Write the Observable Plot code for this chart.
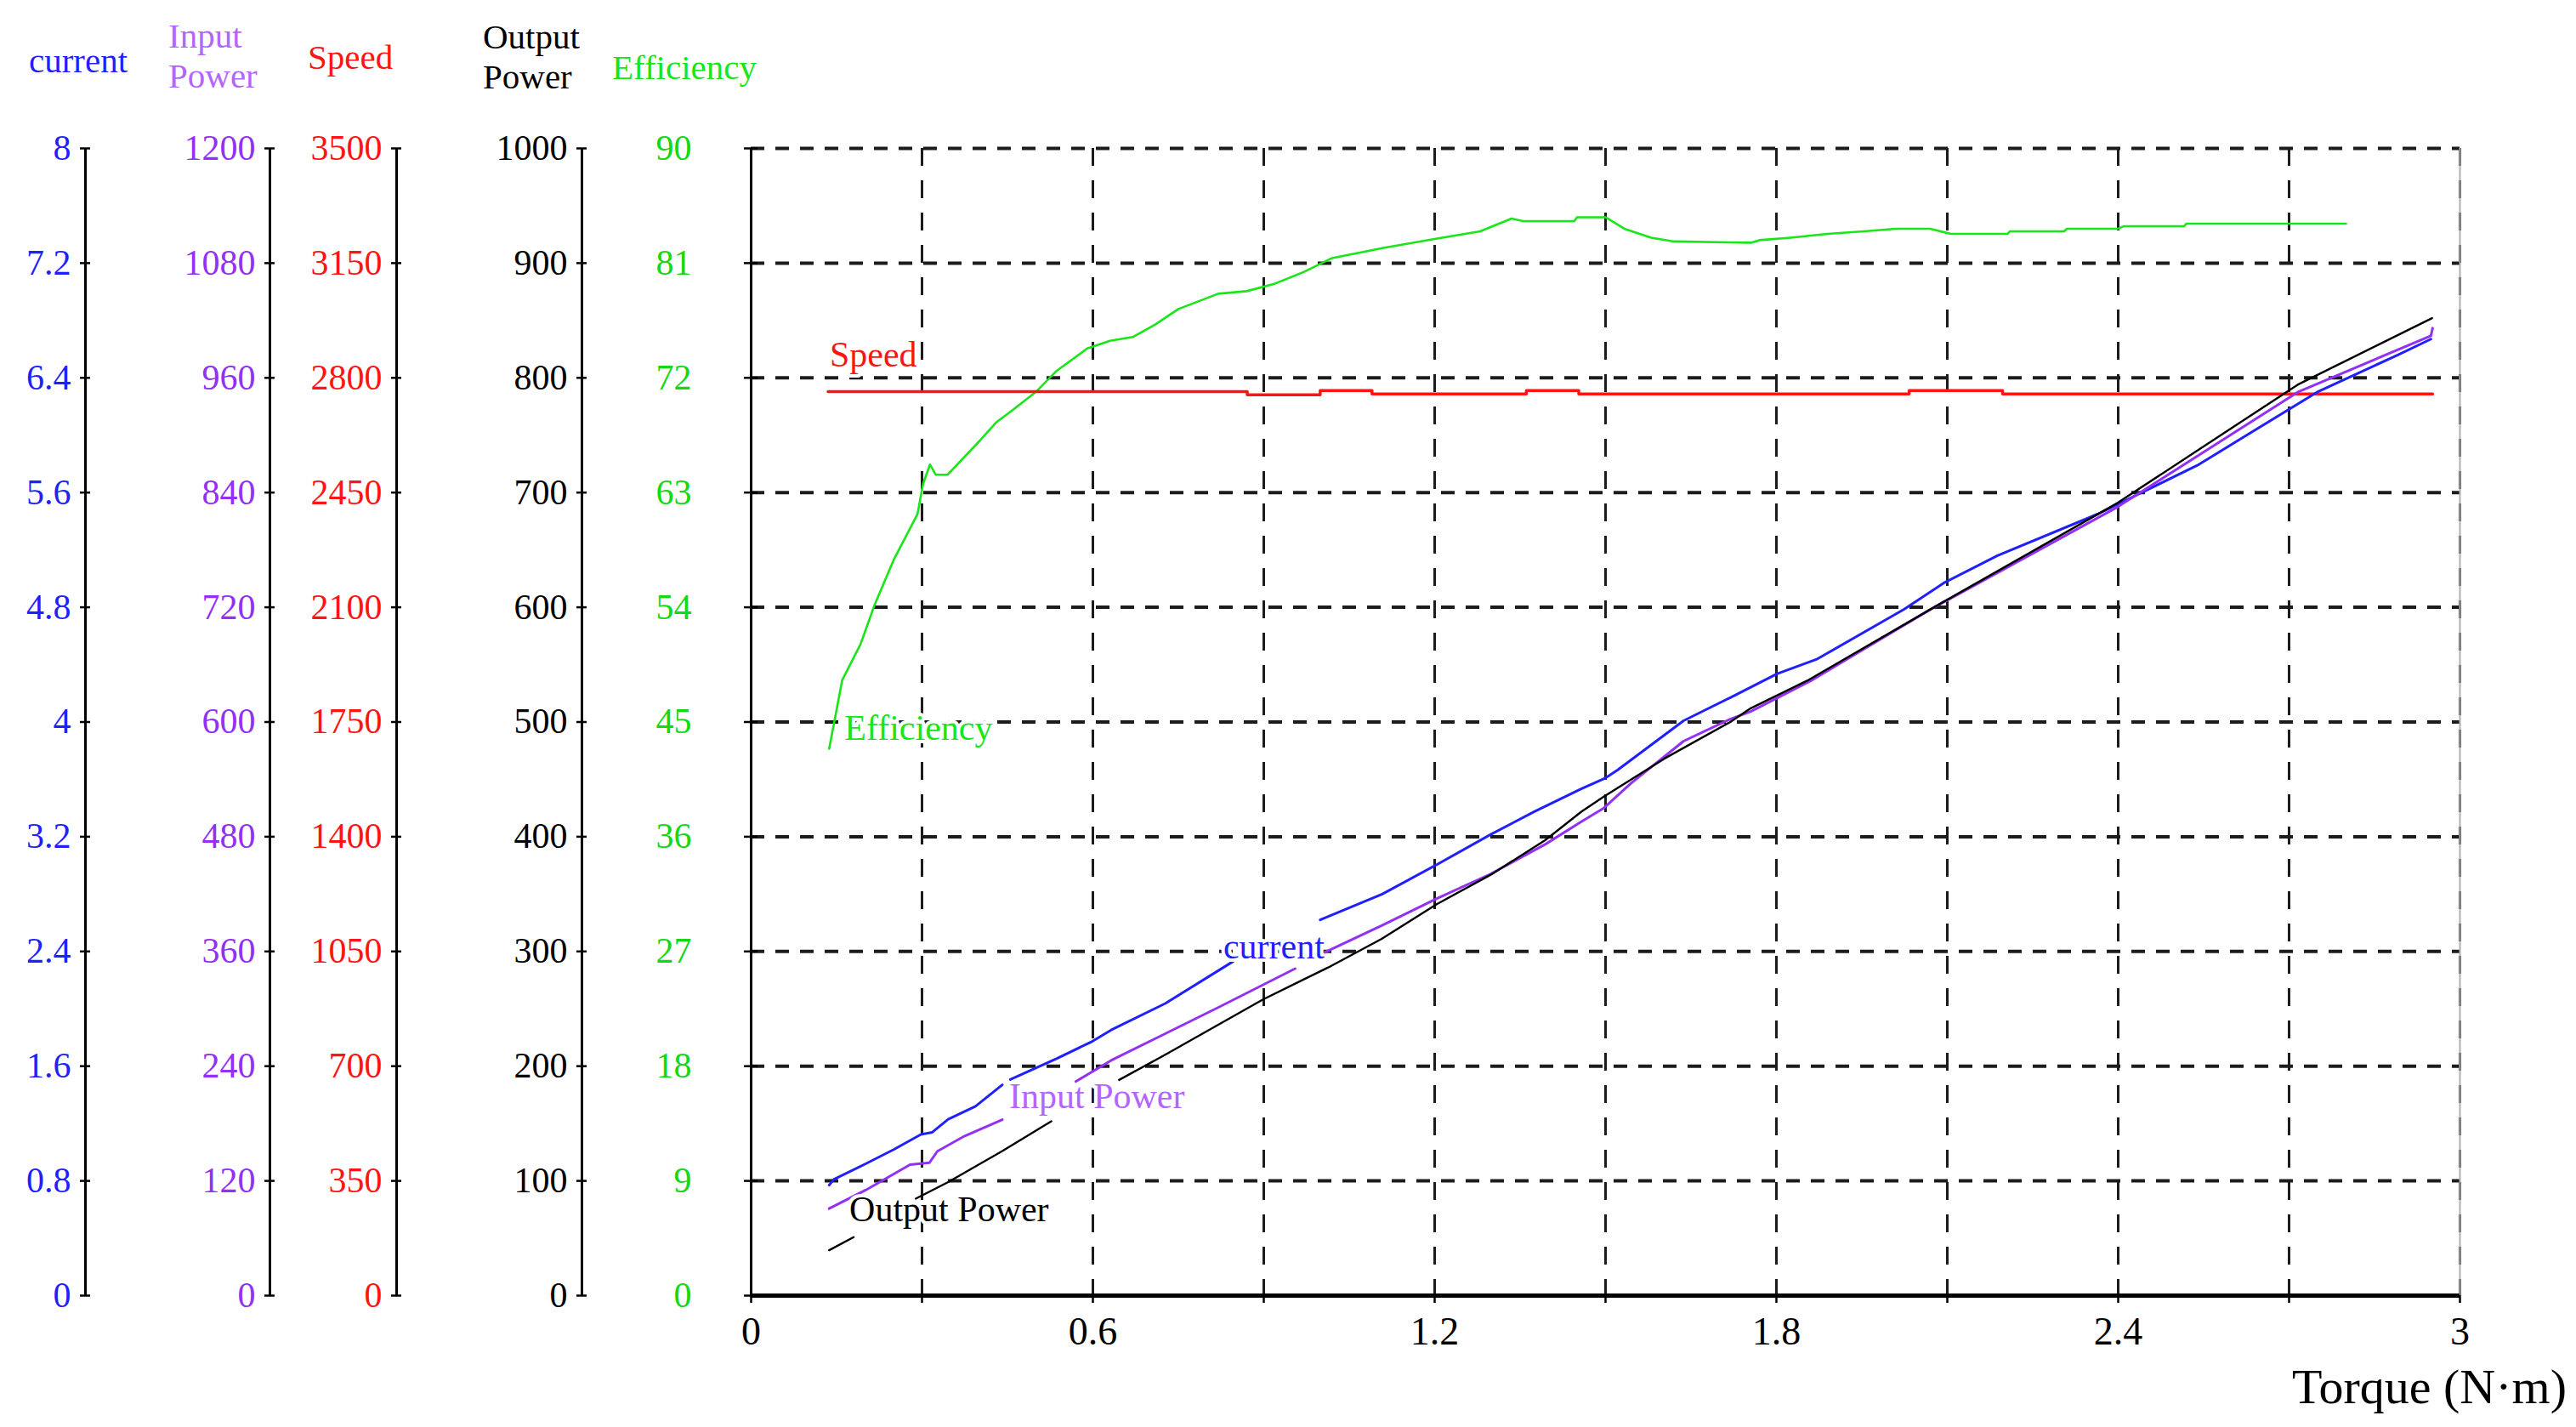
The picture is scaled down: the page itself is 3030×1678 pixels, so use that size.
<!DOCTYPE html>
<html>
<head>
<meta charset="utf-8">
<script src="https://cdn.jsdelivr.net/npm/d3@7"></script>
<script src="https://cdn.jsdelivr.net/npm/@observablehq/plot@0.6"></script>
<style>
  html, body { margin: 0; padding: 0; background: #ffffff; }
  #chart { position: relative; width: 3030px; height: 1678px; background: #ffffff;
           font-family: "Liberation Serif", "Times New Roman", serif; overflow: hidden; }
  #chart svg { position: absolute; left: 0; top: 0; }
  .hdr { position: absolute; font-size: 41px; line-height: 47px; white-space: nowrap; }
  #xlabel { position: absolute; right: 11px; top: 1598px; font-size: 58px; line-height: 66px; white-space: nowrap; color: #000; }
</style>
</head>
<body>
<div id="chart"></div>
<script>
// ---------- tick values ----------
const torqueTicks  = [0, 0.3, 0.6, 0.9, 1.2, 1.5, 1.8, 2.1, 2.4, 2.7, 3];
const torqueLabels = [0, 0.6, 1.2, 1.8, 2.4, 3];
const currentTicks = [0, 0.8, 1.6, 2.4, 3.2, 4, 4.8, 5.6, 6.4, 7.2, 8];
const inputTicks   = [0, 120, 240, 360, 480, 600, 720, 840, 960, 1080, 1200];
const speedTicks   = [0, 350, 700, 1050, 1400, 1750, 2100, 2450, 2800, 3150, 3500];
const outputTicks  = [0, 100, 200, 300, 400, 500, 600, 700, 800, 900, 1000];
const effTicks     = [0, 9, 18, 27, 36, 45, 54, 63, 72, 81, 90];

// ---------- series (torque N·m -> value); NaN = break in the trace ----------
const effTorque = [0.137, 0.16, 0.192, 0.216, 0.25, 0.292, 0.302, 0.314, 0.324, 0.345,
                   0.40, 0.43, 0.46, 0.50, 0.535, 0.59, 0.63, 0.67, 0.71, 0.75,
                   0.82, 0.87, 0.92, 0.97, 1.02, 1.11, 1.20, 1.28, 1.335, 1.355,
                   1.445, 1.45, 1.50, 1.533, 1.58, 1.62, 1.755, 1.77, 1.825, 1.89,
                   1.954, 2.01, 2.07, 2.106, 2.206, 2.21, 2.305, 2.31, 2.40, 2.41,
                   2.516, 2.52, 2.80];
const effValue  = [42.9, 48.3, 51.1, 54.1, 57.7, 61.3, 63.7, 65.2, 64.4, 64.4,
                   67.0, 68.5, 69.5, 70.9, 72.5, 74.3, 74.9, 75.2, 76.2, 77.4,
                   78.6, 78.8, 79.4, 80.3, 81.4, 82.2, 82.9, 83.5, 84.5, 84.3,
                   84.3, 84.6, 84.6, 83.7, 83.0, 82.7, 82.6, 82.8, 83.0, 83.3,
                   83.5, 83.7, 83.7, 83.3, 83.3, 83.5, 83.5, 83.7, 83.7, 83.9,
                   83.9, 84.1, 84.1];

const speedTorque = [0.135, 0.871, 0.999, 1.09, 1.361, 1.453, 2.033, 2.197, 2.952];
const speedValue  = [2758, 2748, 2761, 2751, 2761, 2751, 2761, 2751, 2751];

const currentTorque = [0.137, 0.145, 0.204, 0.251, 0.298, 0.318, 0.346, 0.394, 0.441, 0.448,
                       0.455, 0.537, 0.599, 0.632, 0.727, 0.846, 0.92, 0.999, 1.108, 1.203,
                       1.298, 1.375, 1.458, 1.5, 1.521, 1.579, 1.637, 1.719, 1.801, 1.872,
                       2.024, 2.094, 2.188, 2.364, 2.539, 2.749, 2.891, 2.949];
const currentValue  = [0.77, 0.81, 0.925, 1.02, 1.124, 1.139, 1.23, 1.32, 1.47, NaN,
                       1.507, 1.654, 1.773, 1.852, 2.037, 2.33, NaN, 2.62, 2.80, 3.004,
                       3.215, 3.375, 3.535, 3.61, 3.665, 3.837, 4.009, 4.17, 4.336, 4.44,
                       4.786, 4.97, 5.16, 5.45, 5.79, 6.30, 6.56, 6.67];

const inputTorque = [0.137, 0.203, 0.279, 0.313, 0.327, 0.375, 0.441, 0.50, 0.570, 0.632,
                     0.727, 0.822, 0.955, 0.98, 1.007, 1.107, 1.203, 1.298, 1.394, 1.458,
                     1.497, 1.545, 1.637, 1.719, 1.755, 1.86, 2.071, 2.399, 2.715, 2.949, 2.952];
const inputValue  = [91, 111, 137, 139, 151, 167, 184, NaN, 224, 246,
                     274, 302, 342, NaN, 359, 387, 415, 441, 472, 496,
                     510, 536, 580, 603, 611, 643, 718, 825, 945, 1004, 1012];

const outputTorque = [0.137, 0.18, 0.235, 0.289, 0.346, 0.441, 0.527, 0.59, 0.646, 0.727,
                      0.898, 1.013, 1.107, 1.203, 1.299, 1.394, 1.458, 1.497, 1.603, 1.719,
                      1.755, 1.854, 2.094, 2.399, 2.715, 2.951];
const outputValue  = [39.6, 51, NaN, 84.5, 99, 126, 152, NaN, 188, 210,
                      258, 286, 311, 341, 367, 397, 422, 435, 468, 500,
                      512, 536, 605, 691, 794, 852];

// ---------- colours ----------
const BLUE = "#1f1fff", PURPLE = "#9330f5", PURPLE_LIGHT = "#b366ff", RED = "#ff1414",
      GREEN = "#19e619", GREEN_TXT = "#14d814", BLACK = "#000000";

// ---------- layout ----------
const W = 3030, H = 1678, ML = 883, MR = 137, MT = 174, MB = 155;
const FONT = "Liberation Serif";

const zip = (ts, vs) => ts.map((t, i) => ({t, v: vs[i]}));
const fmt = d => String(d);

function layer(yMax, marks) {
  return Plot.plot({
    width: W, height: H,
    marginLeft: ML, marginRight: MR, marginTop: MT, marginBottom: MB,
    x: {domain: [0, 3], axis: null, label: null},
    y: {domain: [0, yMax], axis: null, label: null},
    style: {background: "transparent", overflow: "visible", fontFamily: FONT, fontSize: "42px", color: "black"},
    marks
  });
}

function sideAxis(ticks, offset, color) {
  return [
    Plot.ruleX([0], {dx: offset, stroke: BLACK, strokeWidth: 3}),
    Plot.axisY(ticks, {anchor: "left", dx: offset, tickSize: 6, tickPadding: 11,
      fill: color, stroke: BLACK, strokeWidth: 2.5, fontSize: 42, tickFormat: fmt, label: null}),
    Plot.axisY(ticks, {anchor: "left", dx: offset + 6, tickSize: 6, fill: "none",
      stroke: BLACK, strokeWidth: 2.5, label: null})
  ];
}

function label(pt, txt, color, opts) {
  return Plot.text([pt], {x: "t", y: "v", text: () => txt, fill: color,
    stroke: "white", strokeWidth: 8, fontSize: 42, fontFamily: FONT, ...opts});
}

const effData = zip(effTorque, effValue);
const speedData = zip(speedTorque, speedValue);
const currentData = zip(currentTorque, currentValue);
const inputData = zip(inputTorque, inputValue);
const outputData = zip(outputTorque, outputValue);

// main layer: grid, torque axis, efficiency axis + curve
const mainPlot = layer(90, [
  Plot.ruleY(effTicks.slice(1), {stroke: "#1c1c1c", strokeWidth: 4, strokeDasharray: "16,13"}),
  Plot.ruleX(torqueTicks.slice(1), {stroke: "#1c1c1c", strokeWidth: 3, strokeDasharray: "21,17"}),
  Plot.ruleX([3], {stroke: "#b0b0b0", strokeWidth: 2}),
  Plot.ruleY([0], {stroke: BLACK, strokeWidth: 5}),
  Plot.ruleX([0], {stroke: BLACK, strokeWidth: 3}),
  Plot.axisX(torqueTicks, {tickSize: 9, fill: "none", stroke: BLACK, strokeWidth: 2.5, label: null}),
  Plot.axisX(torqueLabels, {tickSize: 0, tickPadding: 25, fill: BLACK, fontSize: 46, tickFormat: fmt, label: null}),
  Plot.axisY(effTicks, {anchor: "left", tickSize: 8, tickPadding: 62, fill: GREEN_TXT, stroke: BLACK,
    strokeWidth: 2.5, fontSize: 42, tickFormat: fmt, label: null}),
  Plot.axisY(effTicks, {anchor: "left", dx: 8, tickSize: 8, fill: "none", stroke: BLACK, strokeWidth: 2.5, label: null}),
  Plot.line(effData, {x: "t", y: "v", stroke: GREEN, strokeWidth: 2.6, strokeLinejoin: "round"}),
  label(effData[0], "Efficiency", GREEN, {textAnchor: "start", dx: 18, dy: -24})
]);

const speedPlot = layer(3500, [
  ...sideAxis(speedTicks, 466 - ML, RED),
  Plot.line(speedData, {x: "t", y: "v", stroke: RED, strokeWidth: 3.5, curve: "step-after"}),
  label(speedData[0], "Speed", RED, {textAnchor: "start", dx: 2, dy: -43})
]);

const currentPlot = layer(8, [
  ...sideAxis(currentTicks, 100 - ML, BLUE),
  Plot.line(currentData, {x: "t", y: "v", stroke: BLUE, strokeWidth: 3, strokeLinejoin: "round"}),
  label(currentData[17], "current", BLUE, {textAnchor: "end", dx: 5, dy: 32})
]);

const inputPlot = layer(1200, [
  ...sideAxis(inputTicks, 317 - ML, PURPLE),
  Plot.line(inputData, {x: "t", y: "v", stroke: PURPLE, strokeWidth: 3, strokeLinejoin: "round"}),
  label(inputData[6], "Input Power", PURPLE_LIGHT, {textAnchor: "start", dx: 8, dy: -27})
]);

const outputPlot = layer(1000, [
  ...sideAxis(outputTicks, 684 - ML, BLACK),
  Plot.line(outputData, {x: "t", y: "v", stroke: BLACK, strokeWidth: 2.4, strokeLinejoin: "round"}),
  label(outputData[1], "Output Power", BLACK, {textAnchor: "start", dx: -5, dy: -32})
]);

const chart = document.getElementById("chart");
[mainPlot, speedPlot, currentPlot, inputPlot, outputPlot].forEach(p => chart.appendChild(p));

// axis headers
const headers = [
  {text: "current", left: 34, top: 48, color: BLUE},
  {text: "Input<br>Power", left: 198, top: 19, color: PURPLE_LIGHT},
  {text: "Speed", left: 362, top: 44, color: RED},
  {text: "Output<br>Power", left: 568, top: 20, color: BLACK},
  {text: "Efficiency", left: 720, top: 56, color: GREEN}
];
headers.forEach(h => {
  const d = document.createElement("div");
  d.className = "hdr";
  d.style.left = h.left + "px";
  d.style.top = h.top + "px";
  d.style.color = h.color;
  d.innerHTML = h.text;
  chart.appendChild(d);
});
const xl = document.createElement("div");
xl.id = "xlabel";
xl.textContent = "Torque (N·m)";
chart.appendChild(xl);
</script>
</body>
</html>
